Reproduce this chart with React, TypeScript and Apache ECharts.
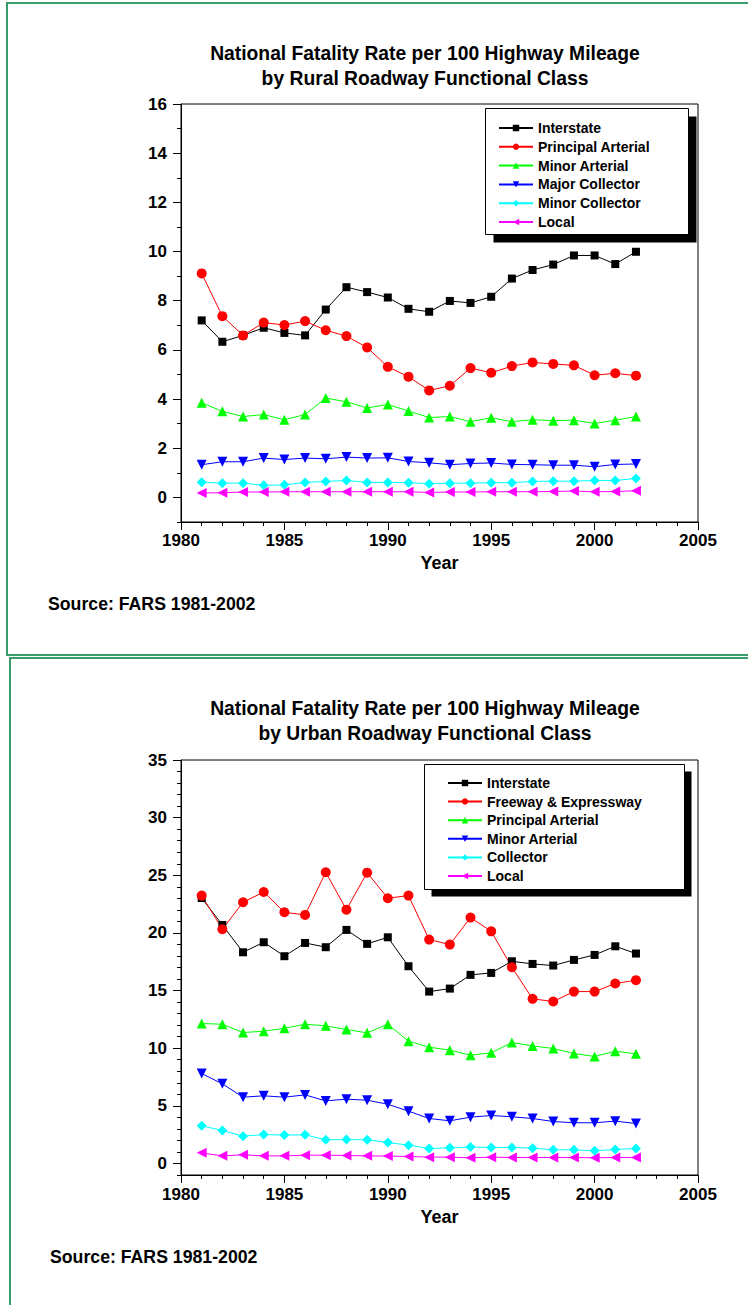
import React, { useEffect, useRef } from "react";
import * as echarts from "echarts";

const FONT = '"Liberation Sans", Arial, sans-serif';
const BORDER_GREEN = "#3b9b6b";

const years = [1981, 1982, 1983, 1984, 1985, 1986, 1987, 1988, 1989, 1990, 1991, 1992, 1993, 1994, 1995, 1996, 1997, 1998, 1999, 2000, 2001, 2002];

// Rural panel
const ruralNames = ["Interstate", "Principal Arterial", "Minor Arterial", "Major Collector", "Minor Collector", "Local"];
const ruralInterstate = [7.2, 6.33, 6.59, 6.9, 6.69, 6.59, 7.64, 8.55, 8.35, 8.13, 7.67, 7.55, 7.99, 7.91, 8.16, 8.9, 9.25, 9.47, 9.84, 9.84, 9.49, 9.99];
const ruralPrincipal = [9.11, 7.37, 6.59, 7.11, 7.01, 7.17, 6.8, 6.56, 6.1, 5.31, 4.91, 4.35, 4.54, 5.26, 5.07, 5.34, 5.49, 5.43, 5.37, 4.97, 5.05, 4.95];
const ruralMinorArterial = [3.85, 3.5, 3.29, 3.37, 3.16, 3.37, 4.04, 3.89, 3.64, 3.78, 3.51, 3.25, 3.29, 3.08, 3.24, 3.08, 3.16, 3.12, 3.14, 3.01, 3.14, 3.29];
const ruralMajorCollector = [1.33, 1.45, 1.45, 1.6, 1.54, 1.6, 1.57, 1.64, 1.6, 1.61, 1.46, 1.41, 1.33, 1.38, 1.4, 1.34, 1.33, 1.31, 1.31, 1.25, 1.34, 1.36];
const ruralMinorCollector = [0.62, 0.58, 0.58, 0.49, 0.51, 0.61, 0.65, 0.69, 0.61, 0.61, 0.6, 0.56, 0.58, 0.58, 0.6, 0.6, 0.65, 0.66, 0.66, 0.69, 0.69, 0.77];
const ruralLocal = [0.18, 0.19, 0.22, 0.22, 0.23, 0.23, 0.23, 0.23, 0.23, 0.23, 0.23, 0.2, 0.22, 0.22, 0.23, 0.23, 0.23, 0.24, 0.26, 0.23, 0.24, 0.27];
const ruralMajorTicks = [0, 2, 4, 6, 8, 10, 12, 14, 16];
const ruralMinorTicks = [-1, 1, 3, 5, 7, 9, 11, 13, 15];

// Urban panel
const urbanNames = ["Interstate", "Freeway & Expressway", "Principal Arterial", "Minor Arterial", "Collector", "Local"];
const urbanInterstate = [23.03, 20.69, 18.32, 19.19, 17.98, 19.13, 18.76, 20.26, 19.05, 19.62, 17.11, 14.91, 15.17, 16.36, 16.53, 17.54, 17.31, 17.17, 17.66, 18.09, 18.84, 18.21];
const urbanFreeway = [23.24, 20.32, 22.66, 23.55, 21.79, 21.56, 25.26, 22.02, 25.23, 23.01, 23.24, 19.42, 18.99, 21.33, 20.14, 17.02, 14.28, 14.05, 14.91, 14.91, 15.61, 15.9];
const urbanPrincipal = [12.14, 12.08, 11.36, 11.47, 11.73, 12.08, 11.94, 11.62, 11.33, 12.08, 10.61, 10.09, 9.83, 9.39, 9.6, 10.49, 10.2, 9.97, 9.54, 9.28, 9.74, 9.51];
const urbanMinorArterial = [7.8, 6.91, 5.75, 5.87, 5.75, 5.95, 5.43, 5.58, 5.49, 5.14, 4.54, 3.9, 3.7, 4.02, 4.16, 4.05, 3.9, 3.64, 3.53, 3.53, 3.67, 3.47];
const urbanCollector = [3.27, 2.86, 2.37, 2.51, 2.46, 2.49, 2.05, 2.08, 2.05, 1.82, 1.59, 1.3, 1.36, 1.42, 1.39, 1.39, 1.33, 1.18, 1.18, 1.1, 1.21, 1.3];
const urbanLocal = [0.92, 0.66, 0.75, 0.66, 0.66, 0.72, 0.72, 0.69, 0.66, 0.64, 0.61, 0.55, 0.55, 0.49, 0.55, 0.52, 0.52, 0.52, 0.52, 0.49, 0.52, 0.52];
const urbanMajorTicks = [0, 5, 10, 15, 20, 25, 30, 35];
const urbanMinorTicks = [-1, 1, 2, 3, 4, 6, 7, 8, 9, 11, 12, 13, 14, 16, 17, 18, 19, 21, 22, 23, 24, 26, 27, 28, 29, 31, 32, 33, 34];

const colors = ["#000000", "#ff0000", "#00ff00", "#0000ff", "#00ffff", "#ff00ff"];
const symbols = ["rect", "circle", "triangle", "triangle", "diamond", "triangle"];
const symbolRotations = [0, 0, 0, 180, 0, 90];
const symbolSizes = [8, 10, 10, 10, 10, 10];

type PanelCfg = {
  names: string[];
  values: number[][];
  yMax: number;
  majorTicks: number[];
  minorTicks: number[];
  gridTop: number;
  gridHeight: number;
  title1: string;
  title2: string;
  titleY1: number;
  titleY2: number;
  box: { x: number; y: number; w: number; h: number; off: number };
  legendLeft: number;
  legendTop: number;
  legendGap: number;
  sourceX: number;
  sourceY: number;
  borders: { x1: number; y1: number; x2: number; y2: number }[];
  xLabelMargin: number;
  nameGap: number;
};

const textBase = { color: "#000", fontWeight: "bold" as const, fontFamily: FONT };

function buildOption(c: PanelCfg) {
  const series = c.names.map((name, i) => ({
    name,
    type: "line",
    data: years.map((y, k) => [y, c.values[i][k]]),
    symbol: symbols[i],
    symbolSize: symbolSizes[i],
    symbolRotate: symbolRotations[i],
    showSymbol: true,
    lineStyle: { color: colors[i], width: 1 },
    itemStyle: { color: colors[i] },
    xAxisIndex: 0,
    yAxisIndex: 0,
  }));
  const graphic: any[] = [];
  c.borders.forEach((b) =>
    graphic.push({ type: "line", shape: b, style: { stroke: BORDER_GREEN, lineWidth: 2 }, z: 1 })
  );
  graphic.push({
    type: "text",
    x: 425,
    y: c.titleY1,
    style: { text: c.title1, fontSize: 19.3, fontWeight: "bold", fontFamily: FONT, fill: "#000", align: "center", verticalAlign: "middle" },
  });
  graphic.push({
    type: "text",
    x: 425,
    y: c.titleY2,
    style: { text: c.title2, fontSize: 19.3, fontWeight: "bold", fontFamily: FONT, fill: "#000", align: "center", verticalAlign: "middle" },
  });
  graphic.push({
    type: "rect",
    shape: { x: c.box.x + c.box.off, y: c.box.y + c.box.off, width: c.box.w, height: c.box.h },
    style: { fill: "#000" },
    z: 5,
  });
  graphic.push({
    type: "rect",
    shape: { x: c.box.x, y: c.box.y, width: c.box.w, height: c.box.h },
    style: { fill: "#fff", stroke: "#000", lineWidth: 1 },
    z: 6,
  });
  graphic.push({
    type: "text",
    x: c.sourceX,
    y: c.sourceY,
    style: { text: "Source: FARS 1981-2002", fontSize: 17.7, fontWeight: "bold", fontFamily: FONT, fill: "#000", align: "left", verticalAlign: "middle" },
  });

  return {
    animation: false,
    backgroundColor: "#fff",
    grid: {
      left: 181,
      top: c.gridTop,
      width: 517,
      height: c.gridHeight,
      show: true,
      borderColor: "#000",
      borderWidth: 1,
      backgroundColor: "transparent",
    },
    legend: {
      orient: "vertical",
      left: c.legendLeft,
      top: c.legendTop,
      padding: 0,
      itemGap: c.legendGap,
      itemWidth: 34,
      itemHeight: 8,
      z: 10,
      selectedMode: false,
      data: c.names,
      textStyle: { ...textBase, fontSize: 14, lineHeight: 16 },
    },
    xAxis: {
      type: "value",
      min: 1980,
      max: 2005,
      interval: 5,
      axisLine: { show: true, onZero: false, lineStyle: { color: "#000", width: 1 } },
      axisTick: { show: true, length: 8, lineStyle: { color: "#000", width: 1 } },
      minorTick: { show: true, splitNumber: 5, length: 4, lineStyle: { color: "#000", width: 1 } },
      axisLabel: { ...textBase, fontSize: 17, margin: c.xLabelMargin, formatter: (v: number) => String(v) },
      splitLine: { show: false },
      minorSplitLine: { show: false },
      name: "Year",
      nameLocation: "middle",
      nameGap: c.nameGap,
      nameTextStyle: { ...textBase, fontSize: 18 },
    },
    yAxis: [
      {
        type: "value",
        min: -1,
        max: c.yMax,
        position: "left",
        axisLine: { show: true, onZero: false, lineStyle: { color: "#000", width: 1 } },
        axisTick: { show: true, length: 8, customValues: c.majorTicks, lineStyle: { color: "#000", width: 1 } },
        axisLabel: { ...textBase, fontSize: 17, margin: 14, customValues: c.majorTicks, formatter: (v: number) => String(v) },
        splitLine: { show: false },
      },
      {
        type: "value",
        min: -1,
        max: c.yMax,
        position: "left",
        axisLine: { show: false, onZero: false },
        axisTick: { show: true, length: 4, customValues: c.minorTicks, lineStyle: { color: "#000", width: 1 } },
        axisLabel: { show: false },
        splitLine: { show: false },
      },
    ],
    series,
    graphic,
  };
}

const ruralCfg: PanelCfg = {
  names: ruralNames,
  values: [ruralInterstate, ruralPrincipal, ruralMinorArterial, ruralMajorCollector, ruralMinorCollector, ruralLocal],
  yMax: 16,
  majorTicks: ruralMajorTicks,
  minorTicks: ruralMinorTicks,
  gridTop: 104,
  gridHeight: 418,
  title1: "National Fatality Rate per 100 Highway Mileage",
  title2: "by Rural Roadway Functional Class",
  titleY1: 53,
  titleY2: 78,
  box: { x: 485.5, y: 108.5, w: 203, h: 126, off: 8 },
  legendLeft: 498,
  legendTop: 120,
  legendGap: 2.8,
  sourceX: 48,
  sourceY: 604,
  borders: [
    { x1: 7, y1: 2, x2: 7, y2: 656 },
    { x1: 6, y1: 3, x2: 748, y2: 3 },
    { x1: 6, y1: 655, x2: 748, y2: 655 },
  ],
  xLabelMargin: 10,
  nameGap: 30,
};

const urbanCfg: PanelCfg = {
  names: urbanNames,
  values: [urbanInterstate, urbanFreeway, urbanPrincipal, urbanMinorArterial, urbanCollector, urbanLocal],
  yMax: 35,
  majorTicks: urbanMajorTicks,
  minorTicks: urbanMinorTicks,
  gridTop: 103,
  gridHeight: 415,
  title1: "National Fatality Rate per 100 Highway Mileage",
  title2: "by Urban Roadway Functional Class",
  titleY1: 51,
  titleY2: 76,
  box: { x: 424.5, y: 107.5, w: 260, h: 125, off: 7 },
  legendLeft: 447,
  legendTop: 118,
  legendGap: 2.6,
  sourceX: 50,
  sourceY: 600,
  borders: [
    { x1: 10, y1: 0, x2: 10, y2: 648 },
    { x1: 9, y1: 1, x2: 748, y2: 1 },
  ],
  xLabelMargin: 11,
  nameGap: 32,
};

function Panel({ top, height, cfg }: { top: number; height: number; cfg: PanelCfg }) {
  const ref = useRef<HTMLDivElement>(null);
  useEffect(() => {
    if (!ref.current) return;
    const chart = echarts.init(ref.current, null, { renderer: "svg" });
    chart.setOption(buildOption(cfg) as any);
    return () => chart.dispose();
  }, [cfg]);
  return <div ref={ref} style={{ position: "absolute", left: 0, top, width: 748, height }} />;
}

export default function App() {
  return (
    <div style={{ position: "absolute", left: 0, top: 0, width: 748, height: 1305, background: "#fff" }}>
      <Panel top={0} height={657} cfg={ruralCfg} />
      <Panel top={657} height={648} cfg={urbanCfg} />
    </div>
  );
}
